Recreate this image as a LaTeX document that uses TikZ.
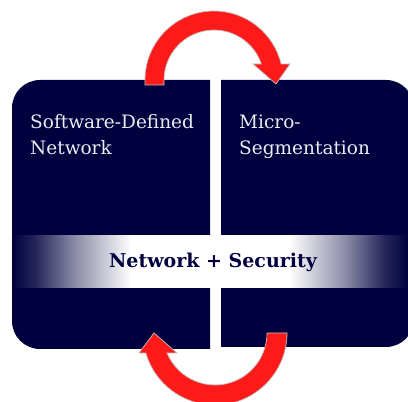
\documentclass[tikz,border=0pt]{standalone}
\usepackage{fontspec}
\setmainfont{DejaVu Serif}
\definecolor{navy}{HTML}{00003F}
\definecolor{arrowred}{HTML}{FF1A1A}
\pgfdeclarehorizontalshading{bandshade}{100bp}{color(0bp)=(navy); color(25bp)=(navy); color(28bp)=(navy!85!white); color(33bp)=(navy!45!white); color(40bp)=(white); color(60bp)=(white); color(67bp)=(navy!45!white); color(72bp)=(navy!85!white); color(75bp)=(navy); color(100bp)=(navy)}
\tikzset{
  panel/.style={fill=navy},
  redarrow/.style={fill=arrowred, draw=black!25, line width=0.7pt, line join=miter},
  paneltext/.style={text=white!92!navy, inner sep=0pt, align=left, anchor=north west, font=\fontsize{18.5}{26}\selectfont},
  bandtext/.style={text=navy, inner sep=0pt, anchor=base, font=\bfseries\fontsize{19}{22}\selectfont}
}
\begin{document}
\begin{tikzpicture}[x=1pt,y=1pt]
\useasboundingbox (0,0) rectangle (408,402);
\fill[white] (0,0) rectangle (408,402);
% panels
\fill[panel] (210,322) -- (40,322) arc[start angle=90,end angle=180,radius=28pt] -- (12,81) arc[start angle=180,end angle=270,radius=28pt] -- (210,53) -- cycle;
\fill[panel] (221,322) -- (386,322) arc[start angle=90,end angle=0,radius=28pt] -- (414,83) arc[start angle=0,end angle=-90,radius=28pt] -- (221,55) -- cycle;
% band
\shade[shading=bandshade] (12,114) rectangle (408,166);
% texts
\node[paneltext] (sdn) at (30,288) {Software-Defined\\Network};
\node[paneltext] (mseg) at (239,287.5) {Micro-\\Segmentation};
\node[bandtext] (band) at (213,134) {Network + Security};
% top arrow
\begin{scope}[shift={(214,322)}]
\path[redarrow] (-69,-5) -- (-69,0) arc[start angle=180,end angle=13.4,radius=69pt] -- (76,16) -- (62,-4) -- (39,16) -- (47.4,16) arc[start angle=18.7,end angle=180,radius=50pt] -- (-50,-5) -- cycle;
\end{scope}
% bottom arrow
\begin{scope}[shift={(215,69)}]
\path[redarrow] (52,0) -- (72,0) arc[start angle=0,end angle=-163.87,radius=72pt] -- (-76,-20) -- (-61,0) -- (-38,-20) -- (-48,-20) arc[start angle=-157.38,end angle=0,radius=52pt] -- cycle;
\end{scope}
\end{tikzpicture}
\end{document}
